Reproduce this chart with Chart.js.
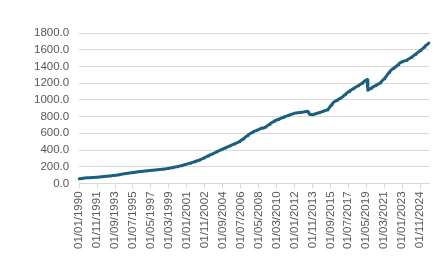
<!DOCTYPE html>
<html>
<head>
<meta charset="utf-8">
<script src="https://cdn.jsdelivr.net/npm/chart.js@4.4.1/dist/chart.umd.min.js"></script>
<style>
html,body{margin:0;padding:0;background:#fff;}
#wrap{width:441px;height:263px;position:relative;}
</style>
</head>
<body>
<div id="wrap"><canvas id="c" width="441" height="263"></canvas></div>
<script>
// Monthly series, Jan 1990 .. Oct 2025 (one row per year)
const startYear = 1990;
const values = [
  56,57,57,58,59,63,64,65,66,67,67,68,            // 1990
  68,69,69,70,70,71,71,72,73,73,74,75,            // 1991
  76,77,78,80,81,82,83,84,85,86,86,87,            // 1992
  88,89,90,92,93,94,95,96,97,98,99,100,           // 1993
  102,104,106,108,111,112,114,115,117,119,120,121,// 1994
  123,124,126,127,128,129,131,132,134,135,136,138,// 1995
  139,140,142,143,144,145,146,147,148,149,150,151,// 1996
  152,153,154,155,156,157,158,159,160,161,162,163,// 1997
  164,165,166,167,168,169,170,171,172,174,175,177,// 1998
  178,180,181,183,185,187,189,191,193,195,197,199,// 1999
  201,203,205,207,210,213,216,218,221,224,226,228,// 2000
  231,234,237,240,243,246,249,252,255,258,262,265,// 2001
  268,272,275,279,283,287,291,295,300,305,310,314,// 2002
  319,324,329,333,338,343,348,352,357,361,366,370,// 2003
  375,380,385,389,394,398,403,407,411,416,420,424,// 2004
  428,433,437,441,446,450,455,459,463,468,472,476,// 2005
  480,485,489,494,498,505,512,519,526,533,540,548,// 2006
  555,563,570,578,585,591,597,603,609,615,621,625,// 2007
  629,633,637,641,645,649,653,660,664,660,663,667,// 2008
  672,678,685,692,699,706,713,720,725,732,738,745,// 2009
  750,754,758,762,766,770,774,778,782,786,790,794,// 2010
  798,802,806,809,812,816,819,822,826,830,833,836,// 2011
  839,842,844,846,845,847,849,848,850,851,852,854,// 2012
  856,858,860,862,863,860,830,826,825,824,823,825,// 2013
  828,831,834,837,840,843,846,849,852,855,860,863,// 2014
  867,870,873,876,880,886,895,910,923,935,947,959,// 2015
  971,977,983,989,995,1000,1006,1012,1018,1024,1031,1036, // 2016
  1045,1054,1063,1072,1080,1087,1094,1101,1108,1115,1122,1128, // 2017
  1134,1140,1146,1152,1158,1163,1169,1175,1181,1187,1194,1200, // 2018
  1210,1218,1225,1230,1236,1242,1115,1121,1128,1134,1140,1147, // 2019
  1154,1159,1164,1169,1175,1180,1185,1191,1196,1202,1212,1222, // 2020
  1232,1242,1252,1262,1275,1288,1302,1315,1328,1341,1350,1359, // 2021
  1367,1375,1382,1389,1395,1401,1411,1421,1431,1441,1446,1450, // 2022
  1455,1460,1463,1466,1469,1472,1478,1484,1490,1495,1501,1508, // 2023
  1514,1520,1527,1535,1543,1550,1557,1565,1572,1580,1587,1595, // 2024
  1602,1610,1620,1630,1640,1650,1657,1664,1672,1680            // 2025
];
const tickLabels = [
  '01/01/1990','01/11/1991','01/09/1993','01/07/1995','01/05/1997',
  '01/03/1999','01/01/2001','01/11/2002','01/09/2004','01/07/2006',
  '01/05/2008','01/03/2010','01/01/2012','01/11/2013','01/09/2015',
  '01/07/2017','01/05/2019','01/03/2021','01/01/2023','01/11/2024'
];
const yTicks = [0,200,400,600,800,1000,1200,1400,1600,1800];

// category labels: first day of each month
const categories = values.map((v,i)=>{
  const y = startYear + Math.floor(i/12);
  const m = (i%12)+1;
  return '01/' + String(m).padStart(2,'0') + '/' + y;
});

const FONT = {family:'"Liberation Sans", Arial, sans-serif', size:11.5};
const TXT = '#595959';
const GRID = '#d9d9d9';

new Chart(document.getElementById('c'), {
  type:'line',
  data:{
    labels:categories,
    datasets:[{
      data:values,
      borderColor:'#1A5F7E',
      borderWidth:3,
      borderJoinStyle:'round',
      borderCapStyle:'round',
      pointRadius:0,
      tension:0,
      fill:false
    }]
  },
  options:{
    responsive:false,
    animation:false,
    devicePixelRatio:1,
    layout:{padding:{left:24,right:12,top:33,bottom:11}},
    plugins:{legend:{display:false},tooltip:{enabled:false},title:{display:false}},
    scales:{
      x:{
        type:'category',
        offset:false,
        afterBuildTicks:(scale)=>{
          scale.ticks = scale.ticks.filter(t => tickLabels.includes(categories[t.value]));
        },
        ticks:{
          autoSkip:false,
          maxRotation:90,minRotation:90,
          font:FONT,color:TXT,padding:3
        },
        grid:{display:true,drawOnChartArea:false,drawTicks:true,tickLength:5,color:GRID},
        border:{display:true,color:GRID}
      },
      y:{
        min:0,max:1800,
        afterBuildTicks:(scale)=>{ scale.ticks = yTicks.map(v=>({value:v})); },
        ticks:{
          autoSkip:false,
          font:FONT,color:TXT,padding:10,
          callback:(v)=>Number(v).toFixed(1)
        },
        grid:{color:GRID,drawTicks:false},
        border:{display:false}
      }
    }
  }
});
</script>
</body>
</html>
